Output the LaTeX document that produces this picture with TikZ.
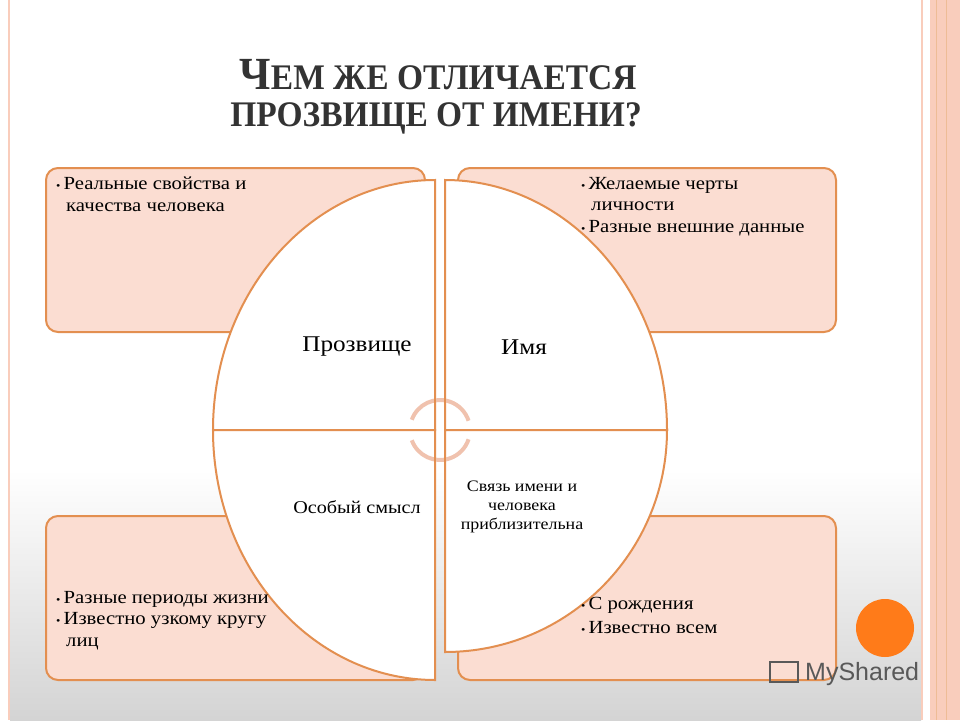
\documentclass[tikz,border=0pt]{standalone}
\usepackage{fontspec}
\setmainfont{Liberation Serif}
\newfontfamily\bodyfont[FakeStretch=1.12]{Liberation Serif}
\newfontfamily\wmfont{Liberation Sans}
\definecolor{peach}{HTML}{FBDDD2}
\definecolor{orng}{HTML}{E38F50}
\definecolor{ring}{HTML}{F0C2AE}
\definecolor{strip}{HTML}{F9CDBC}
\tikzset{
  box/.style={draw=orng,line width=2pt,fill=peach,rounded corners=12pt},
  quarter/.style={draw=orng,line width=2pt,fill=white},
  txt/.style={anchor=north west,inner sep=0pt,align=left,font=\bodyfont\fontsize{18.5}{21.5}\selectfont},
  lbl/.style={inner sep=0pt,align=center,font=\bodyfont\fontsize{21}{24}\selectfont},
}
\newcommand{\bul}{{\fontsize{11}{11}\selectfont•}\,}
\begin{document}
\begin{tikzpicture}[x=1pt,y=-1pt]
\useasboundingbox (0,0) rectangle (960,720);
\fill[white] (0,0) rectangle (960,720);
\fill[white] (10,0) rectangle (921,470);
\shade[top color=white,bottom color=black!17] (10,470) rectangle (921,720);
% frame
\draw[strip,line width=2pt] (9,0) -- (9,720);
\draw[strip,line width=2pt] (922,0) -- (922,720);
\fill[strip] (930,0) rectangle (960,720);
\draw[orng!60,line width=0.8pt] (936,0) -- (936,720);
\draw[orng!60,line width=0.8pt] (946,0) -- (946,720);
% title
\node[inner sep=0pt,xscale=0.93,transform shape,font=\bfseries\fontsize{36}{40}\selectfont,text=black!80] (t1) at (438,75) {{\fontsize{46}{48}\selectfont Ч}ЕМ ЖЕ ОТЛИЧАЕТСЯ};
\node[inner sep=0pt,xscale=0.93,transform shape,font=\bfseries\fontsize{36}{40}\selectfont,text=black!80] (t2) at (436,118) {ПРОЗВИЩЕ ОТ ИМЕНИ?};
% boxes
\draw[box] (46,168) rectangle (425,332);
\draw[box] (458,168) rectangle (836,332);
\draw[box] (46,516) rectangle (425,680);
\draw[box] (458,516) rectangle (836,680);
% quarters
\draw[quarter] (435,430) -- (435,180) arc[start angle=-90,end angle=-180,x radius=222,y radius=250] -- cycle;
\draw[quarter] (445,430) -- (445,180) arc[start angle=-90,end angle=0,x radius=222,y radius=250] -- cycle;
\draw[quarter] (435,430) -- (213,430) arc[start angle=180,end angle=90,x radius=222,y radius=250] -- cycle;
\draw[quarter] (445,430) -- (667,430) arc[start angle=0,end angle=90,x radius=222,y radius=222] -- cycle;
% ring arrows (y axis flipped)
\draw[ring,line width=4pt] (440,430) ++(-160:30) arc[start angle=-160,end angle=-18,radius=30];
\draw[ring,line width=4pt] (440,430) ++(160:30) arc[start angle=160,end angle=18,radius=30];
\draw[orng,line width=2pt] (435,380) -- (435,480) (445,380) -- (445,480);
% labels
\node[lbl,font=\bodyfont\fontsize{22.5}{24}\selectfont] (l1) at (357,347) {Прозвище};
\node[lbl,font=\bodyfont\fontsize{22.5}{24}\selectfont] (l2) at (524,347) {Имя};
\node[lbl,font=\bodyfont\fontsize{18}{20}\selectfont] (l3) at (357,507) {Особый смысл};
\node[lbl,font=\bodyfont\fontsize{16}{19}\selectfont] (l4) at (522,507) {Связь имени и\\человека\\приблизительна};
% texts
\node[txt] (a) at (56,177) {\bul Реальные свойства и\\\hspace*{10pt}качества человека};
\node[txt] (b) at (581,177) {\bul Желаемые черты\\\hspace*{10pt}личности\\\bul Разные внешние данные};
\node[txt] (c) at (56,591) {\bul Разные периоды жизни\\\bul Известно узкому кругу\\\hspace*{10pt}лиц};
\node[txt,font=\bodyfont\fontsize{18.5}{24}\selectfont] (d) at (581,597) {\bul С рождения\\\bul Известно всем};
% dot and watermark
\fill[orange!85!red!90] (885,628) circle (29);
\node[inner sep=0pt,anchor=west,font=\wmfont\fontsize{25}{25}\selectfont,text=black!65] (wm) at (805,674) {MyShared};
\draw[black!65,line width=1.2pt] (770,662) rectangle (798,682);
\end{tikzpicture}
\end{document}
